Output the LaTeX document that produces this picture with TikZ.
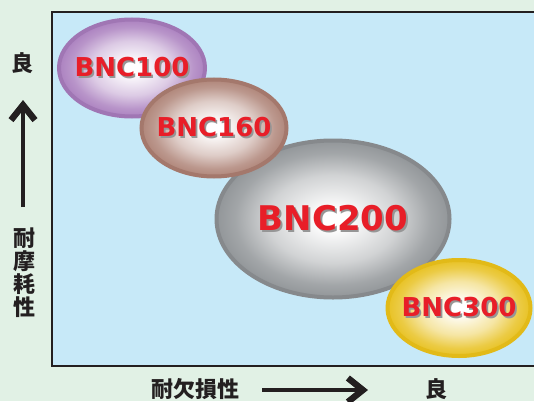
\documentclass[tikz,border=0pt]{standalone}
\usepackage{fontspec}
\usepackage{tikz}
\usetikzlibrary{shapes.geometric,arrows.meta}

\setmainfont{DejaVu Sans}
\newfontfamily\jpfont{Noto Sans CJK JP}

\definecolor{pagegreen}{RGB}{225,241,229}
\definecolor{plotblue}{RGB}{199,233,248}
\definecolor{framegrey}{RGB}{35,31,32}
\definecolor{bncred}{RGB}{232,30,40}
\definecolor{bncshadow}{RGB}{150,150,150}
\definecolor{bncpurple}{RGB}{172,130,192}
\definecolor{rimpurple}{RGB}{160,118,180}
\definecolor{bncbrown}{RGB}{176,134,122}
\definecolor{rimbrown}{RGB}{164,120,108}
\definecolor{bncgrey}{RGB}{146,150,153}
\definecolor{rimgrey}{RGB}{134,137,140}
\definecolor{bncyellow}{RGB}{232,194,36}
\definecolor{rimyellow}{RGB}{226,186,24}

% radial shadings for the balls (path edge sits at 25bp)
\newcommand{\ballshading}[2]{%
  \pgfdeclareradialshading{#1}{\pgfpoint{0bp}{0bp}}{%
    color(0bp)=(white); color(3bp)=(white); color(14bp)=(#2!42!white);
    color(21bp)=(#2!85!white); color(25bp)=(#2); color(50bp)=(#2)}}
\ballshading{purpleball}{bncpurple}
\ballshading{brownball}{bncbrown}
\ballshading{greyball}{bncgrey}
\ballshading{yellowball}{bncyellow}

\newcommand{\bnclabel}[1]{%
  \makebox[0pt]{\raisebox{-1.8pt}{\hspace{3.6pt}\textcolor{bncshadow}{#1}}}%
  \makebox[0pt]{\textcolor{bncred}{#1}}}

\begin{document}
\begin{tikzpicture}[x=1pt,y=-1pt,
  ball/.style={ellipse,inner sep=0pt,line width=4pt},
  small ball/.style={ball,font=\bfseries\fontsize{26}{28}\selectfont},
  axis text/.style={font=\jpfont\bfseries\fontsize{22}{23}\selectfont,
    text=framegrey,align=center,inner sep=0pt},
  axis arrow/.style={line width=4pt,framegrey,
    -{Straight Barb[length=15pt,width=24pt,line width=0pt 1.6]}}]

  \useasboundingbox (0,0) rectangle (534,401);
  \fill[pagegreen] (0,0) rectangle (534,401);
  \draw[line width=2.5pt,draw=framegrey,fill=plotblue]
    (540,12) -- (52,12) -- (52,366) -- (540,366);

  \node[small ball,draw=rimpurple,shading=purpleball,
    minimum width=146pt,minimum height=97pt] (b100) at (132,68) {\bnclabel{BNC100}};
  \node[ball,draw=rimgrey,shading=greyball,
    font=\bfseries\fontsize{34}{36}\selectfont,
    minimum width=233pt,minimum height=157pt] (b200) at (333,219) {\bnclabel{BNC200}};
  \node[small ball,draw=rimbrown,shading=brownball,
    minimum width=145pt,minimum height=97pt] (b160) at (214,128) {\bnclabel{BNC160}};
  \node[small ball,draw=rimyellow,shading=yellowball,
    minimum width=143pt,minimum height=96pt] (b300) at (459,308) {\bnclabel{BNC300}};

  % vertical axis
  \node[axis text] (vgood) at (23,63) {良};
  \node[axis text] (vlabel) at (24,273) {耐\\摩\\耗\\性};
  \coordinate (vtail) at (23,207);
  \coordinate (vhead) at (23,100);
  \draw[axis arrow] (vtail) -- (vhead);

  % horizontal axis
  \node[axis text] (hlabel) at (195,389) {耐欠損性};
  \node[axis text] (hgood) at (436,389) {良};
  \coordinate (htail) at (262,390);
  \coordinate (hhead) at (368,390);
  \draw[axis arrow] (htail) -- (hhead);
\end{tikzpicture}
\end{document}
